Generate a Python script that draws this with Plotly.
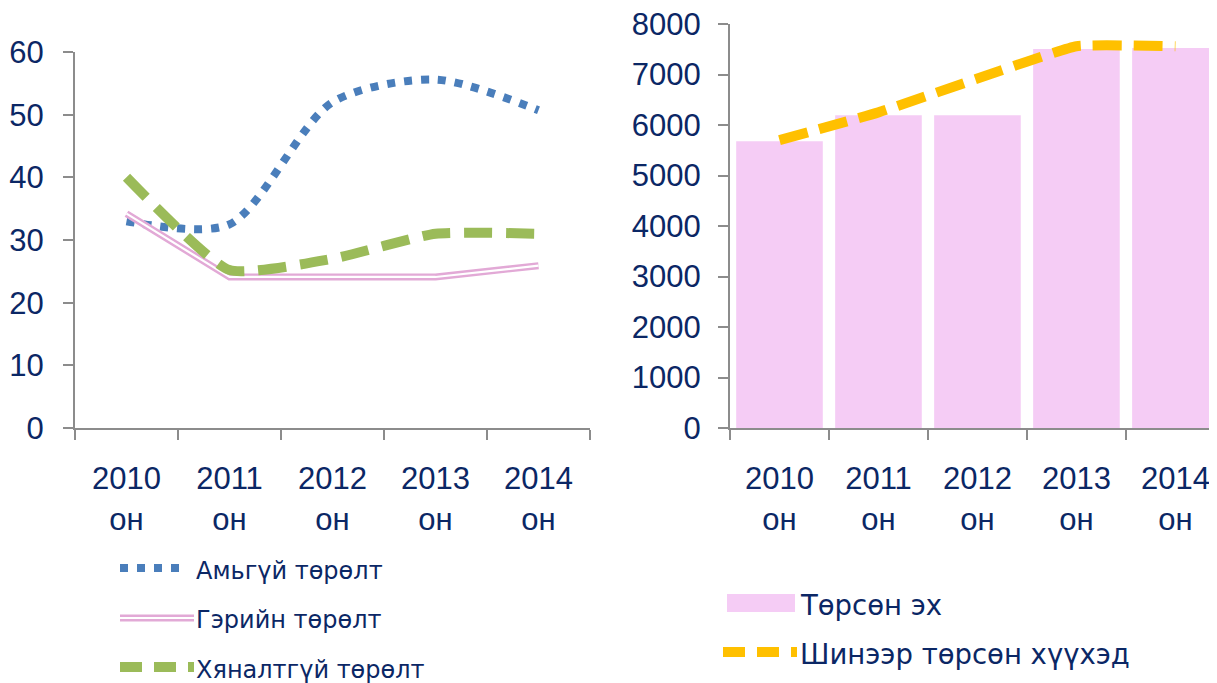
import plotly.graph_objects as go

# ---------------- data ----------------
years = ["2010<br>он", "2011<br>он", "2012<br>он", "2013<br>он", "2014<br>он"]

stillbirth = [33.0, 32.5, 52.0, 55.6, 50.7]      # Амьгүй төрөлт
home_birth = [34.2, 24.1, 24.1, 24.1, 25.9]      # Гэрийн төрөлт
unsupervised = [40.0, 25.2, 27.0, 31.0, 31.0]    # Хяналтгүй төрөлт

mothers = [5680, 6195, 6195, 7505, 7525]          # Төрсөн эх
newborns = [5700, 6250, 6920, 7560, 7560]         # Шинээр төрсөн хүүхэд

left_names = ["Амьгүй төрөлт", "Гэрийн төрөлт", "Хяналтгүй төрөлт"]
right_names = ["Төрсөн эх", "Шинээр төрсөн хүүхэд"]

# ---------------- style ----------------
OFF = 8                      # page body margin offset
W, H = 1217 - OFF, 683 - OFF
NAVY = "#0b2765"
AXIS = "#8c8c8c"
BLUE = "#4a7ebb"
PINK = "#e2a9d6"
GREEN = "#9bbb59"
ORANGE = "#ffc000"
BAR = "#f5ccf5"
TICKFONT = dict(family="Liberation Sans, Arial, sans-serif", size=31, color=NAVY)
LEGFONT_L = dict(family="DejaVu Sans, Verdana, sans-serif", size=24, color=NAVY)
LEGFONT_R = dict(family="DejaVu Sans, Verdana, sans-serif", size=27.5, color=NAVY)


def px_x(x):
    return (x - OFF) / W


def px_y(y):
    return 1 - (y - OFF) / H


fig = go.Figure()

# left chart
fig.add_trace(go.Scatter(x=years, y=stillbirth, mode="lines", name=left_names[0],
                         line=dict(color=BLUE, width=8, dash="8px,9px", shape="spline", smoothing=0.8),
                         xaxis="x", yaxis="y", showlegend=False))
fig.add_trace(go.Scatter(x=years, y=home_birth, mode="lines", name=left_names[1],
                         line=dict(color=PINK, width=7),
                         xaxis="x", yaxis="y", showlegend=False))
fig.add_trace(go.Scatter(x=years, y=home_birth, mode="lines", name=left_names[1],
                         line=dict(color="white", width=2.2),
                         xaxis="x", yaxis="y", showlegend=False, hoverinfo="skip"))
fig.add_trace(go.Scatter(x=years, y=unsupervised, mode="lines", name=left_names[2],
                         line=dict(color=GREEN, width=10, dash="28px,14px", shape="spline", smoothing=0.5),
                         xaxis="x", yaxis="y", showlegend=False))

# right chart
fig.add_trace(go.Bar(x=years, y=mothers, name=right_names[0], marker=dict(color=BAR, line=dict(width=0)),
                     xaxis="x2", yaxis="y2", showlegend=False))
fig.add_trace(go.Scatter(x=years, y=newborns, mode="lines", name=right_names[1],
                         line=dict(color=ORANGE, width=10, dash="29px,12px", shape="spline", smoothing=0.35),
                         xaxis="x2", yaxis="y2", showlegend=False))

axis_common = dict(showgrid=False, zeroline=False, showline=True, linecolor=AXIS, linewidth=2,
                   ticks="outside", tickcolor=AXIS, tickwidth=2, ticklen=10,
                   tickfont=TICKFONT, automargin=False, fixedrange=True,
                   ticklabeloverflow="allow")

y_bottom = px_y(428)

fig.update_layout(
    width=W, height=H,
    margin=dict(l=0, r=0, t=0, b=0),
    paper_bgcolor="white", plot_bgcolor="white",
    bargap=0.125,
    xaxis=dict(domain=[px_x(75), px_x(590)], anchor="y", type="category",
               tickson="boundaries", range=[-0.5, 4.5], ticklabelstandoff=22, **axis_common),
    yaxis=dict(domain=[y_bottom, px_y(52)], anchor="x", range=[0, 60], dtick=10,
               ticklabelstandoff=13, **axis_common),
    xaxis2=dict(domain=[px_x(730), 1.0], anchor="y2", type="category",
                tickson="boundaries", range=[-0.5, 4.42], ticklabelstandoff=22, **axis_common),
    yaxis2=dict(domain=[y_bottom, px_y(24)], anchor="x2", range=[0, 8000], dtick=1000,
                ticklabelstandoff=11, **axis_common),
)

# ---------------- manual legends ----------------
shapes = []
annots = []


def hline(x0, x1, y, color, width, dash="solid"):
    shapes.append(dict(type="line", xref="paper", yref="paper",
                       x0=px_x(x0), x1=px_x(x1), y0=px_y(y), y1=px_y(y),
                       line=dict(color=color, width=width, dash=dash)))


def label(x, y, text, font):
    annots.append(dict(xref="paper", yref="paper", x=px_x(x), y=px_y(y), text=text,
                       showarrow=False, xanchor="left", yanchor="middle", font=font))


hline(120, 188, 568, BLUE, 8, "8px,9px")
label(194, 571, left_names[0], LEGFONT_L)
hline(120, 194, 618, PINK, 7)
hline(120, 194, 618, "white", 2.2)
label(194, 620, left_names[1], LEGFONT_L)
hline(120, 194, 667, GREEN, 10, "22px,12px")
label(194, 670, left_names[2], LEGFONT_L)

shapes.append(dict(type="rect", xref="paper", yref="paper",
                   x0=px_x(727), x1=px_x(795), y0=px_y(612), y1=px_y(594),
                   fillcolor=BAR, line=dict(width=0)))
label(798, 605, right_names[0], LEGFONT_R)
hline(723, 797, 652, ORANGE, 10, "22px,12px")
label(798, 654, right_names[1], LEGFONT_R)

fig.update_layout(shapes=shapes, annotations=annots)

fig.write_html("out.html")
